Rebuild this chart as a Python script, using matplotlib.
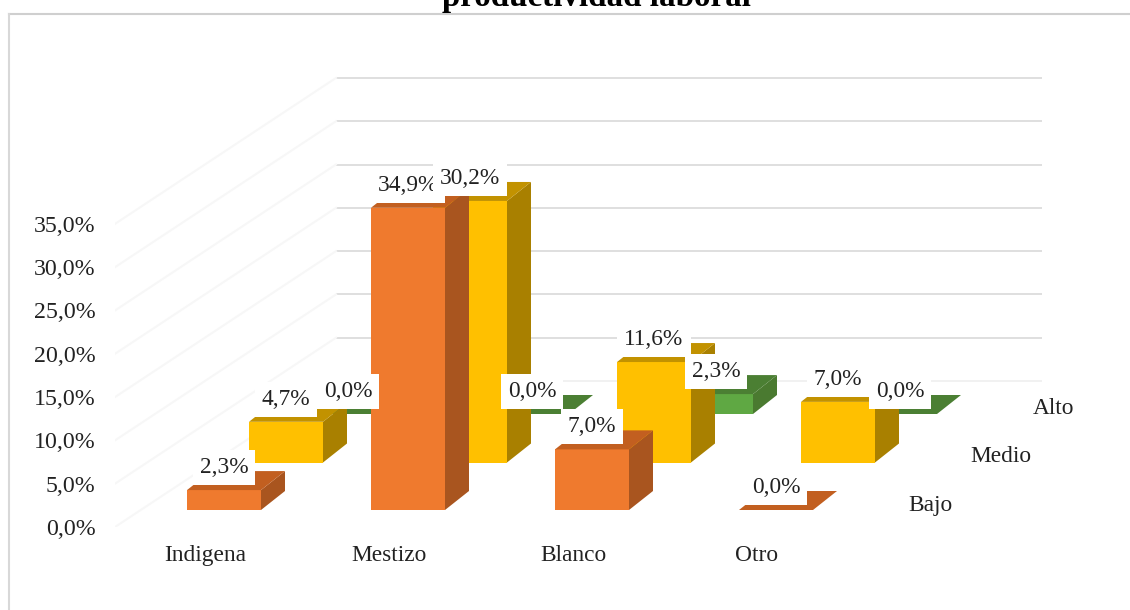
import matplotlib
matplotlib.use('Agg')
import matplotlib.pyplot as plt
from matplotlib.lines import Line2D
from matplotlib.patches import Polygon

plt.rcParams['font.family'] = ['Liberation Serif', 'DejaVu Serif']

categories = ['Indigena', 'Mestizo', 'Blanco', 'Otro']
rows = ['Bajo', 'Medio', 'Alto']
bajo = [2.3, 34.9, 7.0, 0.0]
medio = [4.7, 30.2, 11.6, 7.0]
alto = [0.0, 0.0, 2.3, 0.0]
yticks = [0, 5, 10, 15, 20, 25, 30, 35]
ytick_labels = ['0,0%', '5,0%', '10,0%', '15,0%', '20,0%', '25,0%', '30,0%', '35,0%']

W, H = 1130, 610
# pixel layout of the value scale and of the fake 3D
X0_PX, CAT_PX = 224, 184
Y0_PX, PCT_PX = 527, 8.66
LEFT_PX, TOP_PX = 115, 14

def xd(px):
    return (px - X0_PX) / CAT_PX

def yd(px):
    return (Y0_PX - px) / PCT_PX

bar_w = 74 / CAT_PX
depth_x = 24 / CAT_PX
depth_y = 19 / PCT_PX
row_dx = 62 / CAT_PX
row_base = [yd(510), yd(462.5), yd(414)]

colors = [('#EF7A2E', '#A9551F', '#C25F20'),
          ('#FFC000', '#A98000', '#C29200'),
          ('#5FA843', '#4A7A30', '#4B7F33')]

fig = plt.figure(figsize=(W / 100, H / 100), dpi=100)
ax = fig.add_axes([LEFT_PX / W, (H - Y0_PX) / H, (W - LEFT_PX) / W, (Y0_PX - TOP_PX) / H])
ax.set_xlim(xd(LEFT_PX), xd(W))
ax.set_ylim(0, yd(TOP_PX))
ax.patch.set_visible(False)
for s in ax.spines.values():
    s.set_visible(False)

ax.set_yticks(yticks)
ax.set_yticklabels(ytick_labels, fontsize=17.2, color='#222222')
ax.tick_params(axis='y', length=0, pad=14)
ax.set_xticks([i + xd(205) for i in range(len(categories))])
ax.set_xticklabels(categories, fontsize=16.8, color='#222222')
ax.tick_params(axis='x', length=0, pad=13)

# back wall and faint side wall
back = yd(381)
ax.hlines([t + back for t in yticks[1:]], xd(336), xd(1042), color='#d9d9d9', lw=1.2, zorder=1)
ax.hlines(back, xd(336), xd(1042), color='#efefef', lw=1.2, zorder=1)
for t in yticks:
    ax.plot([xd(LEFT_PX), xd(336)], [t, t + back], color='#f7f7f7', lw=1.5, zorder=1)

# back row first so the front rows cover it
series = [bajo, medio, alto]
z = 2
for r in [2, 1, 0]:
    front, side, top = colors[r]
    base = row_base[r]
    for i, v in enumerate(series[r]):
        left = i + r * row_dx - bar_w / 2
        right = left + bar_w
        y1 = base + v
        if v > 0:
            ax.bar(left, v, bar_w, bottom=base, align='edge', color=front, zorder=z)
            ax.add_patch(Polygon([(right, base), (right + depth_x, base + depth_y),
                                  (right + depth_x, y1 + depth_y), (right, y1)],
                                 color=side, lw=0, zorder=z))
        ax.add_patch(Polygon([(left, y1), (right, y1), (right + depth_x, y1 + depth_y),
                              (left + depth_x, y1 + depth_y)],
                             color=top, lw=0, zorder=z))
        z += 1

# data labels go over every bar, white boxes included
for r in [2, 1, 0]:
    for i, v in enumerate(series[r]):
        txt = f'{v:.1f}%'.replace('.', ',')
        ax.annotate(txt, (i + r * row_dx, row_base[r] + v), xytext=(0, 16.2),
                    textcoords='offset points', ha='center', va='center',
                    fontsize=16.8, color='#222222', zorder=100 + r,
                    bbox=dict(boxstyle='square,pad=0.3', fc='white', ec='none'))

for name, px, py in zip(rows, [930, 1001, 1054], [505, 457, 408]):
    ax.text(xd(px), yd(py), name, fontsize=16.8, color='#222222', ha='center', va='center')

fig.text(597 / W, 1 - 6 / H, 'productividad laboral', fontsize=23.8, fontweight='bold',
         ha='center', va='baseline', color='black')
fig.add_artist(Line2D([9 / W, 1], [1 - 14 / H, 1 - 14 / H], color='#cfcfcf', lw=1.5))
fig.add_artist(Line2D([9 / W, 9 / W], [1 - 14 / H, 0], color='#d8d8d8', lw=1.5))

fig.savefig('out.png', dpi=100)
